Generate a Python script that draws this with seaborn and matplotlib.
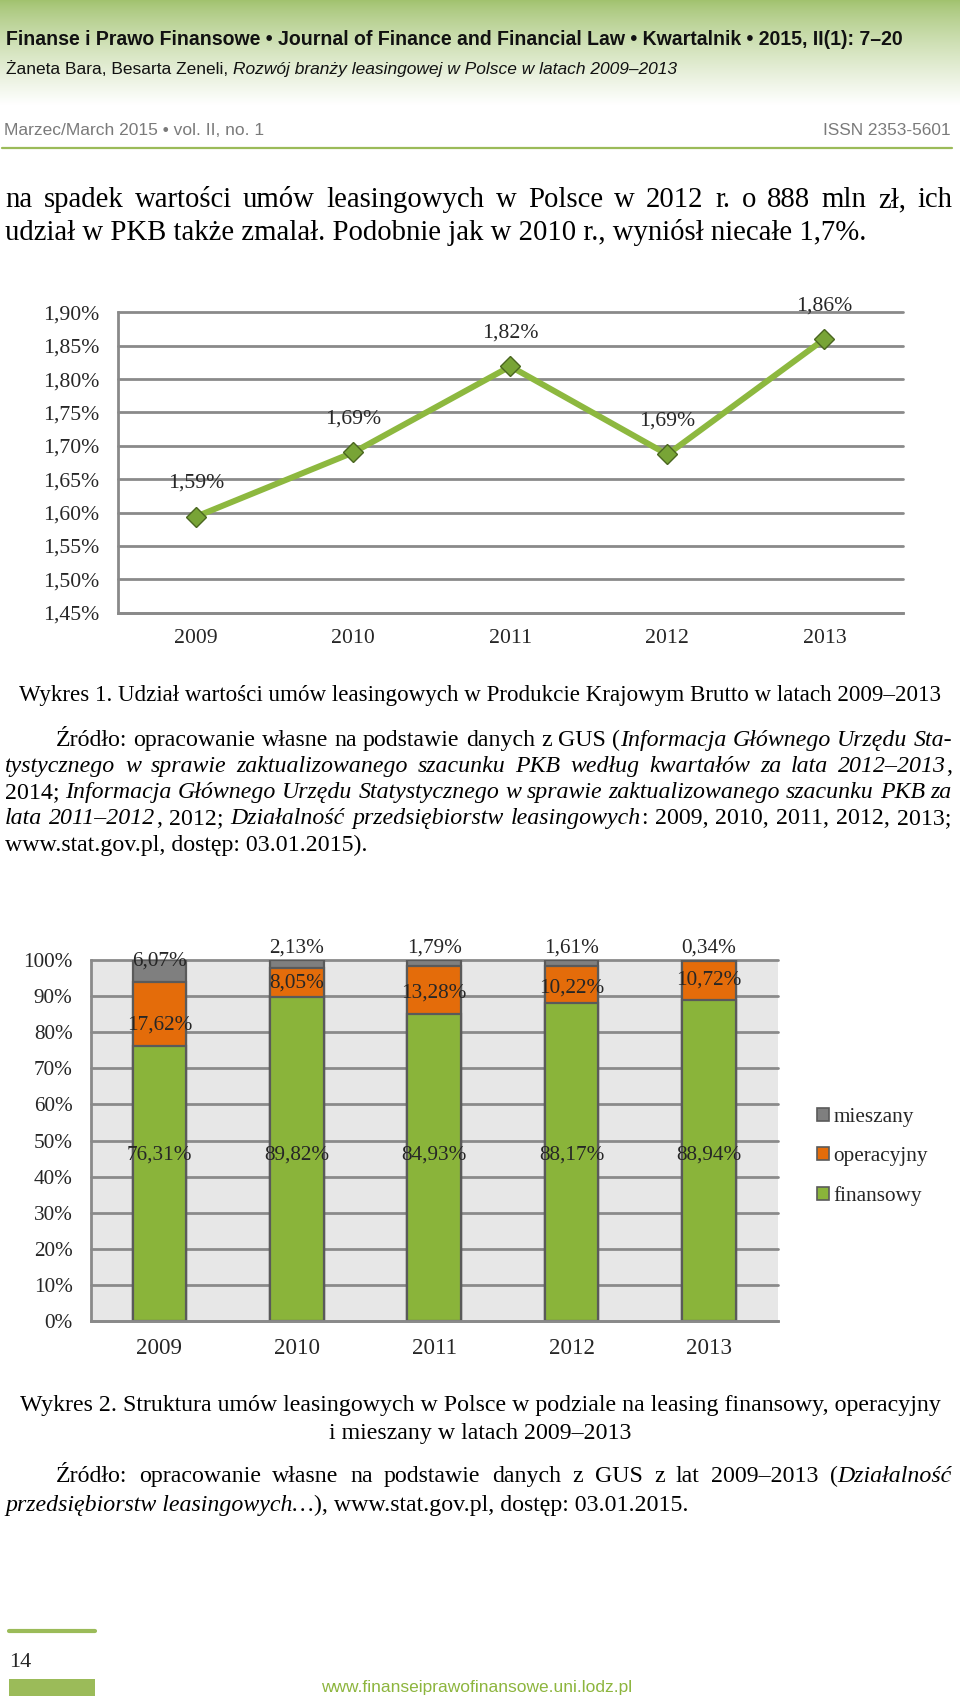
import numpy as np
import seaborn as sns
import matplotlib
matplotlib.use('Agg')
import matplotlib.pyplot as plt
from matplotlib import font_manager
from matplotlib.patches import Patch, Rectangle
from matplotlib.lines import Line2D

# ---- data ----
years = ['2009', '2010', '2011', '2012', '2013']
gdp_share = [1.594, 1.690, 1.819, 1.687, 1.860]
gdp_ticks = [1.45, 1.50, 1.55, 1.60, 1.65, 1.70, 1.75, 1.80, 1.85, 1.90]

finansowy = [76.31, 89.82, 84.93, 88.17, 88.94]
operacyjny = [17.62, 8.05, 13.28, 10.22, 10.72]
mieszany = [6.07, 2.13, 1.79, 1.61, 0.34]
pct_ticks = [0, 10, 20, 30, 40, 50, 60, 70, 80, 90, 100]
legend_labels = ['mieszany', 'operacyjny', 'finansowy']

# label nudges (in % points), layout only
op_nudge = [-3.1, -0.2, -0.7, -1.1, 0.2]
mix_offset = [-0.2, 3.3, 3.3, 3.3, 3.3]   # relative to bar top
FIN_LABEL_Y = 46

W, H = 960, 1704
sns.set_style('white')
installed = {f.name for f in font_manager.fontManager.ttflist}
SERIF = ['Liberation Serif', 'DejaVu Serif']
NARROW = ['Liberation Sans Narrow'] if 'Liberation Sans Narrow' in installed else ['Liberation Sans']
plt.rcParams['font.family'] = SERIF

LINE_GREEN = '#8DB83F'
MARK_FACE = '#78A436'
MARK_EDGE = '#4A6620'
GREEN = '#8AB43A'
ORANGE = '#E46C0A'
GRAY = '#7F7F7F'
EDGE = '#5A5A5A'
GRID = '#8A8A8A'
PAGE_GREEN = '#9BBB59'
BODY = 20.7      # main text
SMALL = 17.2     # captions and sources
C1 = 15.7        # chart 1 text
C2 = 15.3        # chart 2 text

fig = plt.figure(figsize=(9.6, 17.04), dpi=100)
R = fig.canvas.get_renderer()


def fx(px):
    return px / W


def fy(py):
    return 1 - py / H


def text_w(s, size, family, style='normal', weight='normal'):
    t = fig.text(0, 0, s, fontsize=size, family=family, style=style, weight=weight)
    w = t.get_window_extent(R).width
    t.remove()
    return w


def put_line(y, parts, x0, x1=None, mode='left', size=SMALL, family=SERIF,
             color='black', weight='normal'):
    if mode == 'justify':
        words = []
        new_word = True
        for txt, st in parts:
            for i, chunk in enumerate(txt.split(' ')):
                if i > 0:
                    new_word = True
                if not chunk:
                    continue
                if new_word or not words:
                    words.append([])
                words[-1].append((chunk, st))
                new_word = False
        pw = [[text_w(s, size, family, st, weight) for s, st in w] for w in words]
        gap = (x1 - x0 - sum(map(sum, pw))) / (len(words) - 1)
        x = x0
        for w, ws in zip(words, pw):
            for (s, st), wd in zip(w, ws):
                fig.text(fx(x), fy(y), s, fontsize=size, family=family, style=st,
                         color=color, weight=weight, va='baseline', ha='left')
                x += wd
            x += gap
        return

    def layout(sz):
        spc = text_w('x x', sz, family, weight=weight) - text_w('xx', sz, family, weight=weight)
        items, total = [], 0
        for txt, st in parts:
            lead = len(txt) - len(txt.lstrip(' '))
            trail = len(txt) - len(txt.rstrip(' '))
            core = txt.strip(' ')
            wd = text_w(core, sz, family, st, weight)
            items.append((lead * spc, core, st, wd, trail * spc))
            total += lead * spc + wd + trail * spc
        return items, total

    items, total = layout(size)
    if mode == 'fit':
        size = size * (x1 - x0) / total
        items, total = layout(size)
    if mode == 'center':
        x = (x0 + x1) / 2 - total / 2
    elif mode == 'right':
        x = x1 - total
    else:
        x = x0
    for lead, core, st, wd, trail in items:
        x += lead
        fig.text(fx(x), fy(y), core, fontsize=size, family=family, style=st,
                 color=color, weight=weight, va='baseline', ha='left')
        x += wd + trail


# ---- page header ----
grad_ax = fig.add_axes([0, fy(105), 1, 105 / H])
top = np.array([0.63, 0.76, 0.43])
ramp = np.linspace(0, 1, 200) ** 0.8
img = top[None, :] * (1 - ramp[:, None]) + ramp[:, None]
grad_ax.imshow(img[:, None, :], aspect='auto', extent=[0, 1, 0, 1])
grad_ax.axis('off')

N = 'normal'
I = 'italic'
put_line(45, [('Finanse i Prawo Finansowe • Journal of Finance and Financial Law • '
               'Kwartalnik • 2015, II(1): 7–20', N)], 6, 906, mode='fit', size=14,
         family=NARROW, weight='bold', color='#111111')
put_line(74, [('Żaneta Bara, Besarta Zeneli, ', N),
              ('Rozwój branży leasingowej w Polsce w latach 2009–2013', I)],
         6, 678, mode='fit', size=11, family=NARROW, color='#111111')
put_line(135, [('Marzec/March 2015 • vol. II, no. 1', N)], 4, 262, mode='fit', size=13,
         family=NARROW, color='#7A7A7A')
put_line(135, [('ISSN 2353-5601', N)], 823, 950, mode='fit', size=13,
         family=NARROW, color='#7A7A7A')
fig.add_artist(Line2D([fx(2), fx(952)], [fy(147.5), fy(147.5)], color=PAGE_GREEN, lw=1.6))

# ---- paragraph ----
put_line(207, [('na spadek wartości umów leasingowych w Polsce w 2012 r. o 888 mln zł, ich', N)],
         5, 952, mode='justify', size=BODY)
put_line(240, [('udział w PKB także zmalał. Podobnie jak w 2010 r., wyniósł niecałe 1,7%.', N)],
         5, size=BODY)

# ---- chart 1 ----
ax1 = fig.add_axes([fx(117.6), fy(612.7), (903 - 117.6) / W, (612.7 - 312.3) / H])
xs = np.arange(len(years))
sns.lineplot(x=xs, y=gdp_share, ax=ax1, color=LINE_GREEN, lw=4.3, marker='D',
             markersize=10, markerfacecolor=MARK_FACE, markeredgecolor=MARK_EDGE,
             markeredgewidth=1.0, zorder=3)
ax1.set_xlim(-0.5, len(years) - 0.5)
ax1.set_ylim(gdp_ticks[0], gdp_ticks[-1])
ax1.set_yticks(gdp_ticks)
ax1.set_yticklabels([f'{t:.2f}'.replace('.', ',') + '%' for t in gdp_ticks])
ax1.set_xticks(xs)
ax1.set_xticklabels(years)
ax1.set_xticks(np.arange(-0.5, len(years)), minor=True)
ax1.tick_params(axis='x', which='major', length=0, pad=12, labelsize=C1)
ax1.tick_params(axis='x', which='minor', length=7, width=1.5, color=GRID, direction='out')
ax1.tick_params(axis='y', length=0, pad=13, labelsize=C1)
ax1.yaxis.grid(True, color=GRID, lw=2)
for gl in ax1.get_ygridlines():
    gl.set_clip_on(False)
ax1.set_axisbelow(True)
for s in ['top', 'right']:
    ax1.spines[s].set_visible(False)
for s in ['left', 'bottom']:
    ax1.spines[s].set_color(GRID)
    ax1.spines[s].set_linewidth(2)
ax1.set_xlabel('')
ax1.set_ylabel('')
for i, v in enumerate(gdp_share):
    ax1.annotate(f'{v:.2f}'.replace('.', ',') + '%', (i, v), xytext=(0, 24),
                 textcoords='offset points', ha='center', va='center', fontsize=C1)

# ---- captions 1 ----
put_line(701, [('Wykres 1. Udział wartości umów leasingowych w Produkcie Krajowym Brutto '
                'w latach 2009–2013', N)], 19, 942, mode='fit')
put_line(746, [('Źródło: opracowanie własne na podstawie danych z GUS (', N),
               ('Informacja Głównego Urzędu Sta-', I)], 56, 952, mode='justify')
put_line(772, [('tystycznego w sprawie zaktualizowanego szacunku PKB według kwartałów '
                'za lata 2012–2013', I), (',', N)], 5, 952, mode='justify')
put_line(798, [('2014; ', N), ('Informacja Głównego Urzędu Statystycznego w sprawie '
                               'zaktualizowanego szacunku PKB za', I)], 5, 952, mode='justify')
put_line(824.5, [('lata 2011–2012', I), (', 2012; ', N),
                 ('Działalność przedsiębiorstw leasingowych', I),
                 (': 2009, 2010, 2011, 2012, 2013;', N)], 5, 952, mode='justify')
put_line(850.5, [('www.stat.gov.pl, dostęp: 03.01.2015).', N)], 5)

# ---- chart 2 ----
ax2 = fig.add_axes([fx(90.6), fy(1321), (777.7 - 90.6) / W, 361 / H])
ax2.set_facecolor('#E7E7E7')
fin = np.array(finansowy)
op = np.array(operacyjny)
mix = np.array(mieszany)
for heights, col in [(fin + op + mix, GRAY), (fin + op, ORANGE), (fin, GREEN)]:
    sns.barplot(x=years, y=heights, ax=ax2, color=col, saturation=1, width=0.39,
                edgecolor=EDGE, linewidth=1.6, zorder=2)
ax2.set_xlim(-0.5, len(years) - 0.5)
ax2.set_ylim(0, 100)
ax2.set_yticks(pct_ticks)
ax2.set_yticklabels([f'{t}%' for t in pct_ticks])
ax2.set_xticks(np.arange(-0.5, len(years)), minor=True)
ax2.tick_params(axis='x', which='major', length=0, pad=12.5, labelsize=16.6)
ax2.tick_params(axis='x', which='minor', length=6, width=1.5, color=GRID, direction='out')
ax2.tick_params(axis='y', length=0, pad=13, labelsize=C2)
ax2.yaxis.grid(True, color=GRID, lw=2)
for gl in ax2.get_ygridlines():
    gl.set_clip_on(False)
ax2.set_axisbelow(True)
for s in ['top', 'right']:
    ax2.spines[s].set_visible(False)
for s in ['left', 'bottom']:
    ax2.spines[s].set_color(GRID)
    ax2.spines[s].set_linewidth(2)
ax2.set_xlabel('')
ax2.set_ylabel('')


def pct(v):
    return f'{v:.2f}'.replace('.', ',') + '%'


for i in range(len(years)):
    ax2.text(i, FIN_LABEL_Y, pct(fin[i]), ha='center', va='center', fontsize=C2, zorder=5)
    ax2.text(i, fin[i] + op[i] / 2 + op_nudge[i], pct(op[i]), ha='center', va='center',
             fontsize=C2, zorder=5)
    ax2.text(i, fin[i] + op[i] + mix[i] + mix_offset[i], pct(mix[i]), ha='center',
             va='center', fontsize=C2, zorder=5, clip_on=False)

handles = [Patch(facecolor=c, edgecolor=EDGE, lw=1.2) for c in (GRAY, ORANGE, GREEN)]
fig.legend(handles, legend_labels, loc='center left', bbox_to_anchor=(fx(817), fy(1157)),
           frameon=False, prop=dict(family=SERIF, size=C2), handlelength=0.58,
           handleheight=0.58, handletextpad=0.2, labelspacing=0.93, borderpad=0,
           borderaxespad=0)

# ---- captions 2 ----
put_line(1411.5, [('Wykres 2. Struktura umów leasingowych w Polsce w podziale na leasing '
                   'finansowy, operacyjny', N)], 19, 941, mode='center')
put_line(1438.5, [('i mieszany w latach 2009–2013', N)], 19, 941, mode='center')
put_line(1482, [('Źródło: opracowanie własne na podstawie danych z GUS z lat 2009–2013 (', N),
                ('Działalność', I)], 56, 952, mode='justify')
put_line(1511.5, [('przedsiębiorstw leasingowych…', I),
                  ('), www.stat.gov.pl, dostęp: 03.01.2015.', N)], 5)

# ---- footer ----
fig.add_artist(Line2D([fx(8.6), fx(95)], [fy(1631), fy(1631)], color=PAGE_GREEN, lw=3))
fig.add_artist(Rectangle((fx(8.6), fy(1695.5)), (95 - 8.6) / W, 16.5 / H,
                         transform=fig.transFigure, color=PAGE_GREEN, lw=0))
fig.text(fx(9), fy(1667), '14', fontsize=16, family=SERIF, va='baseline', ha='left')
put_line(1692, [('www.finanseiprawofinansowe.uni.lodz.pl', N)], 321, 631, mode='fit', size=13,
         family=NARROW, color='#8DB53E')

fig.savefig('out.png', dpi=100)
